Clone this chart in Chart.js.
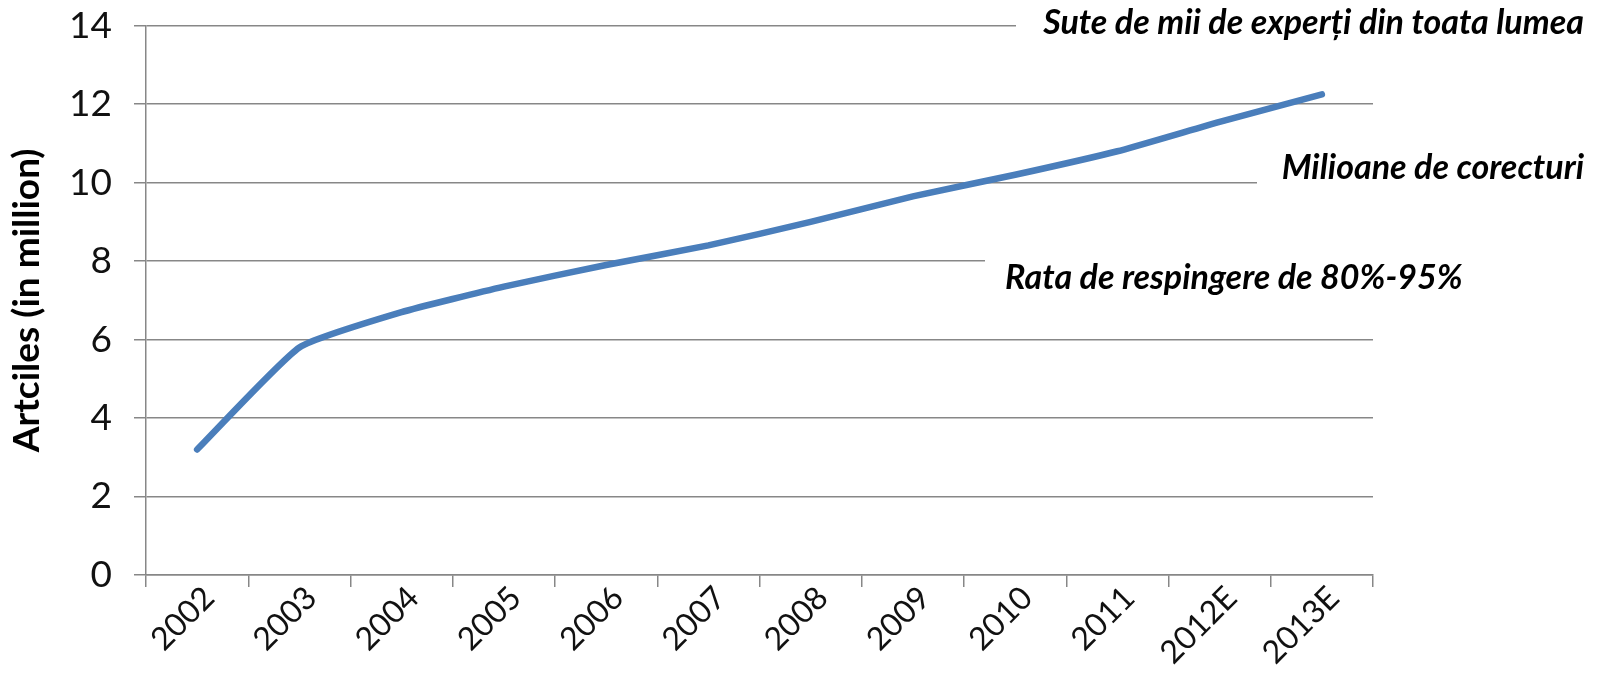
<!DOCTYPE html>
<html>
<head>
<meta charset="utf-8">
<script src="https://cdn.jsdelivr.net/npm/chart.js@4.4.1/dist/chart.umd.min.js"></script>
<style>
  html, body { margin: 0; padding: 0; background: #fff; }
  #wrap { width: 1600px; height: 700px; }
</style>
</head>
<body>
<div id="wrap"><canvas id="chart" width="1600" height="700"></canvas></div>
<script>
// data
const years = ['2002', '2003', '2004', '2005', '2006', '2007', '2008', '2009', '2010', '2011', '2012E', '2013E'];
const articles = [3.2, 5.8, 6.7, 7.35, 7.9, 8.4, 9.0, 9.65, 10.2, 10.8, 11.55, 12.25];
const yTicks = [0, 2, 4, 6, 8, 10, 12, 14];
const notes = ['Sute de mii de experți din toata lumea', 'Milioane de corecturi', 'Rata de respingere de 80%-95%'];

const gridGray = '#878787';
const fontFam = 'Lato, "Open Sans", sans-serif';

// white boxes with italic text laid over the grid, like the original slide
const notesPlugin = {
    id: 'notes',
    beforeDatasetsDraw(chart) {
        const ctx = chart.ctx;
        const boxes = [
            { text: notes[0], x: 1584, y: 23, align: 'right', box: [1016, 0, 584, 48] },
            { text: notes[1], x: 1584, y: 168, align: 'right', box: [1257, 142, 343, 50] },
            { text: notes[2], x: 1005, y: 278, align: 'left', box: [985, 250, 500, 50] }
        ];
        ctx.save();
        ctx.font = 'italic bold 34px ' + fontFam;
        ctx.textBaseline = 'middle';
        boxes.forEach(b => {
            ctx.fillStyle = '#fff';
            ctx.fillRect(b.box[0], b.box[1], b.box[2], b.box[3]);
            ctx.fillStyle = '#000';
            ctx.textAlign = b.align;
            ctx.fillText(b.text, b.x, b.y);
        });
        ctx.restore();
    }
};

new Chart(document.getElementById('chart').getContext('2d'), {
    type: 'line',
    data: {
        labels: years,
        datasets: [{
            label: 'Articles',
            data: articles,
            borderColor: '#4A7EBB',
            borderWidth: 6.5,
            pointRadius: 0,
            tension: 0.15,
            borderCapStyle: 'round',
            fill: false
        }]
    },
    options: {
        responsive: false,
        animation: false,
        layout: { padding: { left: 0, right: 227, top: 8, bottom: 0 } },
        plugins: {
            legend: { display: false },
            tooltip: { enabled: false }
        },
        scales: {
            x: {
                offset: true,
                grid: {
                    offset: true,
                    drawOnChartArea: false,
                    drawTicks: true,
                    tickLength: 12,
                    color: gridGray,
                    lineWidth: 1.5
                },
                border: { color: gridGray, width: 1.5 },
                ticks: {
                    color: '#111',
                    font: { family: fontFam, size: 32 },
                    maxRotation: 45,
                    minRotation: 45,
                    labelOffset: 12,
                    padding: -8
                },
                afterFit(scale) { scale.height = 125; }
            },
            y: {
                min: 0,
                max: 14,
                afterBuildTicks(scale) { scale.ticks = yTicks.map(v => ({ value: v })); },
                grid: {
                    color: gridGray,
                    lineWidth: 1.5,
                    tickLength: 12
                },
                border: { color: gridGray, width: 1.5 },
                ticks: {
                    color: '#111',
                    font: { family: fontFam, size: 37, lineHeight: 0.2 },
                    padding: 22
                },
                title: {
                    display: true,
                    text: 'Artciles (in million)',
                    color: '#000',
                    font: { family: fontFam, size: 37, weight: 'bold' },
                    padding: { top: 5, bottom: 0 }
                },
                afterFit(scale) { scale.width = 146; }
            }
        }
    },
    plugins: [notesPlugin]
});
</script>
</body>
</html>
